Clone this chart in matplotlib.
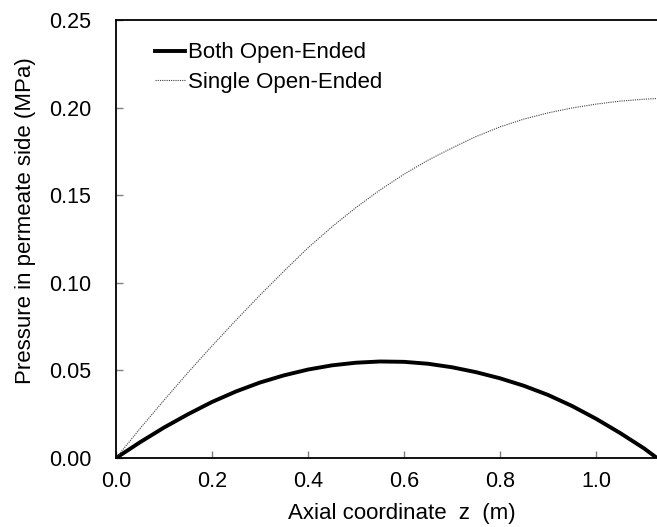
import numpy as np
import matplotlib.pyplot as plt

plt.rcParams['font.family'] = ['Liberation Sans', 'DejaVu Sans']

# axial coordinate (m)
z = [0.0, 0.05, 0.10, 0.15, 0.20, 0.25, 0.30, 0.35, 0.40, 0.45, 0.50, 0.55,
     0.60, 0.65, 0.70, 0.75, 0.80, 0.85, 0.90, 0.95, 1.00, 1.05, 1.10, 1.127]

# permeate side pressure (MPa)
p_both = [0.0, 0.0090, 0.0174, 0.0250, 0.0320, 0.0380, 0.0431, 0.0472, 0.0505,
          0.0529, 0.0544, 0.0551, 0.0549, 0.0538, 0.0518, 0.0490, 0.0455,
          0.0412, 0.0360, 0.0297, 0.0224, 0.0143, 0.0055, 0.0]
p_single = [0.0, 0.0168, 0.033, 0.0488, 0.064, 0.0787, 0.093, 0.1067, 0.120,
            0.132, 0.143, 0.153, 0.162, 0.170, 0.177, 0.1835, 0.189, 0.1935,
            0.197, 0.1998, 0.202, 0.2037, 0.2048, 0.2052]

xticks = [0.0, 0.2, 0.4, 0.6, 0.8, 1.0]
yticks = [0.0, 0.05, 0.10, 0.15, 0.20, 0.25]

fig = plt.figure(figsize=(6.57, 5.27), dpi=100)
ax = fig.add_axes([0.1766, 0.1309, 0.8234, 0.8311])

ax.plot(z, p_both, color='black', linewidth=2.8, label='Both Open-Ended')
ax.plot(z, p_single, color='#404040', linewidth=0.8, linestyle=(0, (1, 1)),
        label='Single Open-Ended')

ax.set_xlim(0, 1.127)
ax.set_ylim(0, 0.25)
ax.set_xticks(xticks)
ax.set_yticks(yticks)
ax.set_xticklabels(['%.1f' % v for v in xticks])
ax.set_yticklabels(['%.2f' % v for v in yticks])

ax.spines['right'].set_visible(False)
for s in ['left', 'bottom', 'top']:
    ax.spines[s].set_linewidth(1.3)
ax.tick_params(direction='in', length=5, width=1, labelsize=15.5,
               color='#808080')
ax.tick_params(axis='x', pad=9)
ax.tick_params(axis='y', pad=18)

ax.set_xlabel('Axial coordinate  z  (m)', fontsize=16, va='center', ha='center')
ax.xaxis.set_label_coords(0.529, -0.126)
ax.set_ylabel('Pressure in permeate side (MPa)', fontsize=16, va='center', ha='center')
ax.yaxis.set_label_coords(-0.168, 0.541)

ax.legend(loc='upper left', bbox_to_anchor=(0.072, 0.949), frameon=False,
          fontsize=16, handlelength=1.35, handletextpad=0.14, labelspacing=0.38,
          borderpad=0, borderaxespad=0)

fig.savefig('out.png', dpi=100)
